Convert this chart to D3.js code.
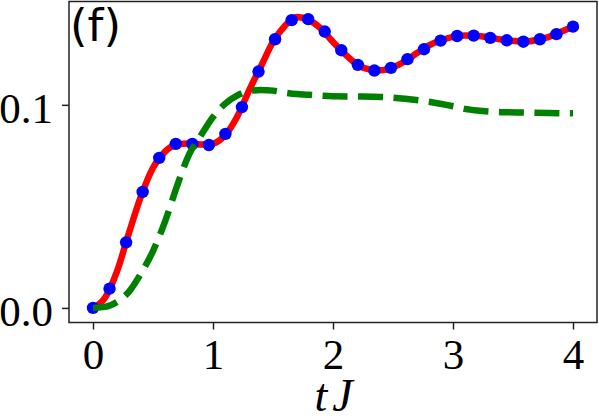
<!DOCTYPE html>
<html>
<head>
<meta charset="utf-8">
<script src="https://cdn.jsdelivr.net/npm/d3@7"></script>
<style>
	body { margin: 0; background: #fff; }
	svg { display: block; }
	.tick text { font-family: "Liberation Serif", serif; font-size: 43px; fill: #000; }
	.tick line { stroke: #222; stroke-width: 1.5; }
	.domain { display: none; }
</style>
</head>
<body>
<svg id="chart"></svg>
<script>
/*
	Data
*/
const dotT = d3.range(30).map(i => i * 4 / 29)
const dotValues = [0, 0.0095, 0.0323, 0.0571, 0.0739, 0.0808, 0.0808, 0.0802, 0.0857, 0.0989,
	0.1164, 0.1323, 0.1417, 0.1422, 0.1361, 0.1269, 0.1197, 0.1169, 0.1182, 0.1225,
	0.1274, 0.1316, 0.1339, 0.1341, 0.1330, 0.1318, 0.1311, 0.1323, 0.1348, 0.1385]

const redT = [0, 0.1, 0.2, 0.3, 0.4, 0.5, 0.6, 0.7, 0.8, 0.9, 1.0, 1.1, 1.2, 1.3, 1.4, 1.5, 1.6, 1.7, 1.8, 1.9, 2.0,
	2.1, 2.2, 2.3, 2.4, 2.5, 2.6, 2.7, 2.8, 2.9, 3.0, 3.1, 3.2, 3.3, 3.4, 3.5, 3.6, 3.7, 3.8, 3.9, 4.0]
const redValues = [0, 0.005, 0.018, 0.037, 0.055, 0.069, 0.077, 0.0805, 0.081, 0.0805, 0.081, 0.085, 0.094, 0.107, 0.119,
	0.131, 0.139, 0.1433, 0.1418, 0.1375, 0.131, 0.125, 0.120, 0.1175, 0.117, 0.1185, 0.1215, 0.1255, 0.1293, 0.1318,
	0.1335, 0.1342, 0.134, 0.1332, 0.1322, 0.1315, 0.1311, 0.132, 0.1335, 0.136, 0.1385]

const greenT = [0, 0.1, 0.2, 0.3, 0.4, 0.5, 0.6, 0.7, 0.8, 0.9, 1.0, 1.1, 1.2, 1.3, 1.4, 1.5, 1.6, 1.7, 1.8, 1.9, 2.0,
	2.2, 2.4, 2.6, 2.8, 3.0, 3.1, 3.2, 3.4, 3.6, 3.8, 4.0]
const greenValues = [0, 0.0005, 0.003, 0.008, 0.017, 0.028, 0.0425, 0.060, 0.0755, 0.085, 0.094, 0.1005, 0.1045, 0.1068,
	0.1073, 0.107, 0.106, 0.1053, 0.105, 0.1045, 0.1042, 0.1041, 0.1039, 0.103, 0.1015, 0.0993, 0.098, 0.0972,
	0.0964, 0.0962, 0.096, 0.0958]

const xTicks = [0, 1, 2, 3, 4]
const yTicks = [0, 0.1]
const panelLabel = '(f)'

/*
	Layout
*/
const [width, height] = [599, 420]
const box = {left: 69, right: 597, top: 1.5, bottom: 322.5}

const svg = d3.select('#chart').attr('width', width).attr('height', height)

const x = d3.scaleLinear().domain([-0.2, 4.2]).range([box.left, box.right])
const y = d3.scaleLinear().domain([-0.00718, 0.15089]).range([box.bottom, box.top])

const xAxis = d3.axisBottom(x).tickValues(xTicks).tickFormat(d3.format('d')).tickSize(7).tickPadding(9)
const yAxis = d3.axisLeft(y).tickValues(yTicks).tickFormat(d3.format('.1f')).tickSize(7).tickPadding(9)

svg.append('g').attr('transform', `translate(0,${box.bottom})`).call(xAxis)
	.selectAll('.tick text').attr('dy', '0.7em')
svg.append('g').attr('transform', `translate(${box.left},0)`).call(yAxis)
	.selectAll('.tick text').attr('dy', '0.42em')

//curves: red underneath, then dots, green dashes on top
const line = d3.line().x(d => x(d[0])).y(d => y(d[1])).curve(d3.curveMonotoneX)

svg.append('path')
	.datum(d3.zip(redT, redValues))
	.attr('d', line)
	.attr('fill', 'none')
	.attr('stroke', '#ff0000')
	.attr('stroke-width', 6.5)

svg.append('g').selectAll('circle')
	.data(d3.zip(dotT, dotValues))
	.join('circle')
	.attr('cx', d => x(d[0]))
	.attr('cy', d => y(d[1]))
	.attr('r', 6.2)
	.attr('fill', '#0000ff')

svg.append('path')
	.datum(d3.zip(greenT, greenValues))
	.attr('d', line)
	.attr('fill', 'none')
	.attr('stroke', '#008000')
	.attr('stroke-width', 6.5)
	.attr('stroke-dasharray', '25,10.5')

//frame
svg.append('rect')
	.attr('x', box.left).attr('y', box.top)
	.attr('width', box.right - box.left).attr('height', box.bottom - box.top)
	.attr('fill', 'none').attr('stroke', '#222').attr('stroke-width', 1.5)

svg.append('text')
	.attr('x', 70).attr('y', 41)
	.attr('font-family', '"DejaVu Sans", sans-serif')
	.attr('font-size', 45)
	.text(panelLabel)

svg.append('text')
	.attr('x', (box.left + box.right) / 2 + 3).attr('y', 411)
	.attr('text-anchor', 'middle')
	.attr('font-family', '"Liberation Serif", serif')
	.attr('font-style', 'italic')
	.attr('font-size', 46)
	.attr('letter-spacing', 5)
	.text('tJ')
</script>
</body>
</html>
